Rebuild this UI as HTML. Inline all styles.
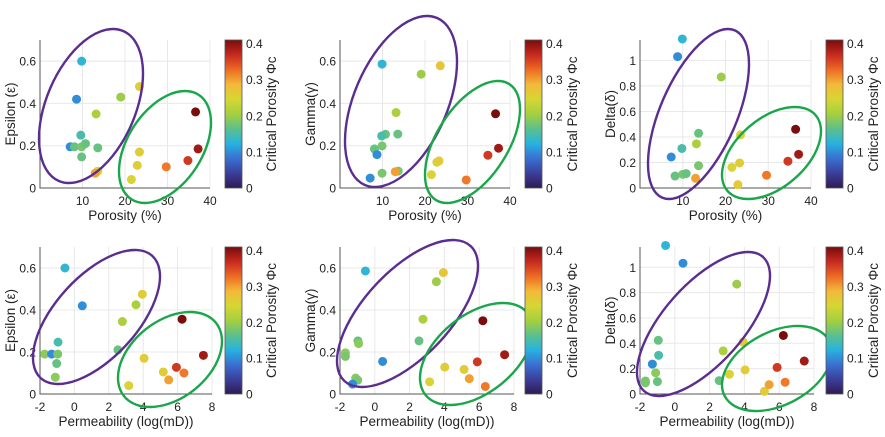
<!DOCTYPE html>
<html><head><meta charset="utf-8">
<style>
html,body{margin:0;padding:0;background:#fff;}
svg{display:block;font-family:"Liberation Sans",sans-serif;}
</style></head>
<body>
<svg id="fig" width="885" height="437" viewBox="0 0 885 437" xmlns="http://www.w3.org/2000/svg">
<defs>
<linearGradient id="turbo" x1="0" y1="1" x2="0" y2="0">
<stop offset="0" stop-color="#2f1a55"/><stop offset="0.1" stop-color="#3b3f9a"/>
<stop offset="0.2" stop-color="#3a70d0"/><stop offset="0.3" stop-color="#27b3e0"/>
<stop offset="0.4" stop-color="#5cc08c"/><stop offset="0.5" stop-color="#a6cf3e"/>
<stop offset="0.6" stop-color="#d6d634"/><stop offset="0.7" stop-color="#f3b93a"/>
<stop offset="0.8" stop-color="#ee6a24"/><stop offset="0.9" stop-color="#c62a20"/>
<stop offset="1" stop-color="#7a0c0c"/>
</linearGradient>
</defs>
</svg>
<script>
// ---- data (per panel) ----
const porEps = [9.8,8.6,19.0,23.4,13.2,9.6,7.1,8.1,9.8,10.7,13.6,9.8,13.6,13.0,23.4,22.9,21.5,29.7,34.8,36.6,37.2];
const valEps = [0.6,0.42,0.43,0.48,0.35,0.25,0.195,0.195,0.195,0.21,0.19,0.147,0.08,0.07,0.17,0.107,0.04,0.10,0.13,0.36,0.185];
const phiEps = [0.13,0.1,0.2,0.26,0.21,0.15,0.1,0.17,0.18,0.17,0.17,0.17,0.25,0.3,0.26,0.26,0.25,0.32,0.36,0.41,0.39];

const porGam = [9.9,23.6,19.1,13.2,13.6,10.7,9.8,9.9,8.1,8.7,9.9,7.1,13.7,13.0,21.5,22.8,23.3,29.7,34.8,36.6,37.3];
const valGam = [0.586,0.578,0.538,0.357,0.255,0.254,0.246,0.199,0.185,0.158,0.07,0.047,0.08,0.077,0.063,0.122,0.128,0.038,0.155,0.351,0.188];
const phiGam = [0.13,0.27,0.2,0.21,0.17,0.17,0.15,0.18,0.17,0.1,0.18,0.1,0.18,0.3,0.25,0.26,0.26,0.32,0.36,0.41,0.39];

const porDel = [9.9,8.8,19.0,13.7,13.2,9.8,7.3,13.7,8.2,10.0,10.8,13.0,23.5,23.3,21.5,22.9,29.6,34.6,36.4,37.1];
const valDel = [1.168,1.03,0.87,0.429,0.346,0.31,0.243,0.175,0.094,0.107,0.113,0.076,0.416,0.196,0.162,0.026,0.1,0.21,0.46,0.264];
const phiDel = [0.13,0.1,0.2,0.17,0.21,0.15,0.1,0.18,0.17,0.18,0.17,0.3,0.25,0.26,0.25,0.26,0.32,0.36,0.41,0.39];

const permEps = [-0.55,0.46,3.95,3.58,2.79,-0.95,-1.73,-1.32,-0.97,-1.03,-1.11,2.53,4.05,3.16,5.17,5.48,5.93,6.37,6.26,7.5];
const pvalEps = [0.6,0.42,0.475,0.425,0.345,0.247,0.19,0.19,0.19,0.145,0.08,0.21,0.17,0.04,0.105,0.067,0.127,0.1,0.356,0.184];
const pphiEps = [0.13,0.1,0.26,0.21,0.21,0.15,0.19,0.1,0.18,0.17,0.19,0.17,0.26,0.25,0.26,0.3,0.36,0.32,0.41,0.39];

const permGam = [-0.54,3.94,3.54,2.77,2.54,-0.97,-0.93,-1.69,-1.69,0.45,-1.1,-0.98,-1.28,4.02,3.15,5.13,5.43,5.89,6.35,6.21,7.46];
const pvalGam = [0.586,0.578,0.535,0.356,0.253,0.253,0.24,0.196,0.179,0.155,0.076,0.066,0.047,0.128,0.058,0.117,0.073,0.153,0.036,0.349,0.187];
const pphiGam = [0.13,0.27,0.2,0.21,0.17,0.17,0.19,0.19,0.18,0.1,0.19,0.18,0.1,0.26,0.25,0.26,0.3,0.36,0.32,0.41,0.39];

const permDel = [-0.53,0.47,3.56,-0.95,-0.93,-1.29,-1.1,-1.69,-1.69,-1.0,2.78,2.55,3.93,3.14,4.04,5.15,5.42,5.88,6.34,6.24,7.44];
const pvalDel = [1.172,1.032,0.867,0.424,0.305,0.236,0.167,0.103,0.088,0.098,0.34,0.106,0.41,0.156,0.19,0.021,0.074,0.21,0.093,0.462,0.26];
const pphiDel = [0.13,0.1,0.2,0.17,0.15,0.1,0.19,0.18,0.18,0.17,0.21,0.17,0.26,0.25,0.26,0.26,0.3,0.36,0.32,0.41,0.39];

const porTicks = [10,20,30,40];
const permTicks = [-2,0,2,4,6,8];
const smallTicks = [0,0.2,0.4,0.6];
const bigTicks = [0,0.2,0.4,0.6,0.8,1];
const cbTicks = [0,0.1,0.2,0.3,0.4];

const NS = "http://www.w3.org/2000/svg";
const svg = document.getElementById('fig');
function mk(tag, attrs, parent){const e=document.createElementNS(NS,tag);for(const k in attrs)e.setAttribute(k,attrs[k]);(parent||svg).appendChild(e);return e;}

const stops=[[47,26,85],[59,63,154],[58,112,208],[39,179,224],[92,192,140],[166,207,62],[214,214,52],[243,185,58],[238,106,36],[198,42,32],[122,12,12]];
function cmap(v){let t=Math.max(0,Math.min(1,v/0.41))*10;let i=Math.min(9,Math.floor(t)),f=t-i;const a=stops[i],b=stops[i+1];
 return 'rgb('+a.map((c,k)=>Math.round(c+(b[k]-c)*f)).join(',')+')';}

function fmt(v){return (Math.round(v*10)/10).toString();}

const panels=[
 {name:'eps-porosity',xs:porEps,ys:valEps,cs:phiEps,x0:40,x1:210,y0:188,y1:40,xmin:0,xmax:40,ymax:0.7,xt:porTicks,yt:smallTicks,xl:'Porosity (%)',yl:'Epsilon (ε)',cb:225,ylx:15,cbl:276,
  ell:[['purple-ellipse','#5b2d90',91,106,52,77,22],['green-ellipse','#1aa64a',165,147,46,56,20]]},
 {name:'gamma-porosity',xs:porGam,ys:valGam,cs:phiGam,x0:340,x1:510,y0:188,y1:40,xmin:0,xmax:40,ymax:0.7,xt:porTicks,yt:smallTicks,xl:'Porosity (%)',yl:'Gamma(γ)',cb:525,ylx:315,cbl:577,
  ell:[['purple-ellipse','#5b2d90',401,101.5,56,85.5,26],['green-ellipse','#1aa64a',472.5,142,47.5,61,25.5]]},
 {name:'delta-porosity',xs:porDel,ys:valDel,cs:phiDel,x0:640,x1:811,y0:188,y1:40,xmin:0,xmax:40,ymax:1.16,xt:porTicks,yt:bigTicks,xl:'Porosity (%)',yl:'Delta(δ)',cb:826,ylx:615,cbl:878,
  ell:[['purple-ellipse','#5b2d90',698.5,114,50.5,85,29.5],['green-ellipse','#1aa64a',771.5,153,49.5,46,23.5]]},
 {name:'eps-permeability',xs:permEps,ys:pvalEps,cs:pphiEps,x0:40,x1:212,y0:394,y1:247,xmin:-2,xmax:8,ymax:0.7,xt:permTicks,yt:smallTicks,xl:'Permeability (log(mD))',yl:'Epsilon (ε)',cb:225,ylx:15,cbl:276,
  ell:[['purple-ellipse','#5b2d90',96.5,317,63.5,67,38.5],['green-ellipse','#1aa64a',170,359.5,52,47.5,20]]},
 {name:'gamma-permeability',xs:permGam,ys:pvalGam,cs:pphiGam,x0:340,x1:514,y0:394,y1:247,xmin:-2,xmax:8,ymax:0.7,xt:permTicks,yt:smallTicks,xl:'Permeability (log(mD))',yl:'Gamma(γ)',cb:525,ylx:315,cbl:577,
  ell:[['purple-ellipse','#5b2d90',407.5,313.5,70.5,73.5,45.5],['green-ellipse','#1aa64a',476.5,354,56.5,51,26.5]]},
 {name:'delta-permeability',xs:permDel,ys:pvalDel,cs:pphiDel,x0:640,x1:814,y0:394,y1:247,xmin:-2,xmax:8,ymax:1.16,xt:permTicks,yt:bigTicks,xl:'Permeability (log(mD))',yl:'Delta(δ)',cb:826,ylx:615,cbl:878,
  ell:[['purple-ellipse','#5b2d90',703.5,324,66.5,72,44.5],['green-ellipse','#1aa64a',777,368.5,55,42.5,21]]}
];

function ellipse(g,e){
 const [nm,col,cx,cy,hx,hy,dx]=e;
 const d1=hx*hx-hy*hy, d2=2*dx*hy;
 const diff=Math.sqrt(d1*d1+d2*d2), sum=hx*hx+hy*hy;
 const a=Math.sqrt((sum+diff)/2), b=Math.sqrt(Math.max(1,(sum-diff)/2));
 const th=Math.atan2(d2,d1)/2*180/Math.PI;
 const el=mk('ellipse',{cx:cx,cy:cy,rx:a,ry:b,fill:'none',stroke:col,'stroke-width':2.4,transform:'rotate('+(-th)+' '+cx+' '+cy+')'},g);
 
 
}

panels.forEach(p=>{
 const g=mk('g',{});
 
 
 const sx=v=>p.x0+(v-p.xmin)/(p.xmax-p.xmin)*(p.x1-p.x0);
 const sy=v=>p.y0-v/p.ymax*(p.y0-p.y1);
 p.xt.forEach(t=>{const l=mk('line',{x1:sx(t),x2:sx(t),y1:p.y1,y2:p.y0,stroke:'#e8e8e8','stroke-width':1},g);
  });
 p.yt.forEach(t=>{const l=mk('line',{x1:p.x0,x2:p.x1,y1:sy(t),y2:sy(t),stroke:'#e8e8e8','stroke-width':1},g);
  });
 const ax=mk('path',{d:'M'+p.x0+' '+p.y1+' V'+p.y0+' H'+p.x1,fill:'none',stroke:'#555','stroke-width':1},g);
 
 p.xt.forEach(t=>{const tx=mk('text',{x:sx(t),y:p.y0+17,'font-size':12,'text-anchor':'middle',fill:'#222'},g);tx.textContent=t;
  });
 p.yt.forEach(t=>{const tx=mk('text',{x:p.x0-4,y:sy(t)+4.5,'font-size':12,'text-anchor':'end',fill:'#222'},g);tx.textContent=fmt(t);
  });
 const xl=mk('text',{x:(p.x0+p.x1)/2,y:p.y0+32,'font-size':13.5,'text-anchor':'middle',fill:'#222'},g);xl.textContent=p.xl;
 
 const cyl=(p.y0+p.y1)/2;
 const yl=mk('text',{x:p.ylx,y:cyl,'font-size':13.5,'text-anchor':'middle',fill:'#222',transform:'rotate(-90 '+p.ylx+' '+cyl+')'},g);yl.textContent=p.yl;
 
 p.xs.forEach((x,i)=>{const c=mk('circle',{cx:sx(x),cy:sy(p.ys[i]),r:4.5,fill:cmap(p.cs[i])},g);
  });
 p.ell.forEach(e=>ellipse(g,e));
 const top=p.y1, bot=p.y0;
 const cb=mk('rect',{x:p.cb,y:top,width:17,height:bot-top,fill:'url(#turbo)',stroke:'#555','stroke-width':0.8},g);
 
 const cbs=v=>bot-v/0.41*(bot-top);
 cbTicks.forEach(t=>{const tx=mk('text',{x:p.cb+21,y:cbs(t)+4.5,'font-size':12,fill:'#222'},g);tx.textContent=fmt(t);
  });
 const cl=mk('text',{x:p.cbl,y:cyl,'font-size':13.5,'text-anchor':'middle',fill:'#222',transform:'rotate(-90 '+p.cbl+' '+cyl+')'},g);cl.textContent='Critical Porosity Φc';
 
});
</script>
</body></html>
